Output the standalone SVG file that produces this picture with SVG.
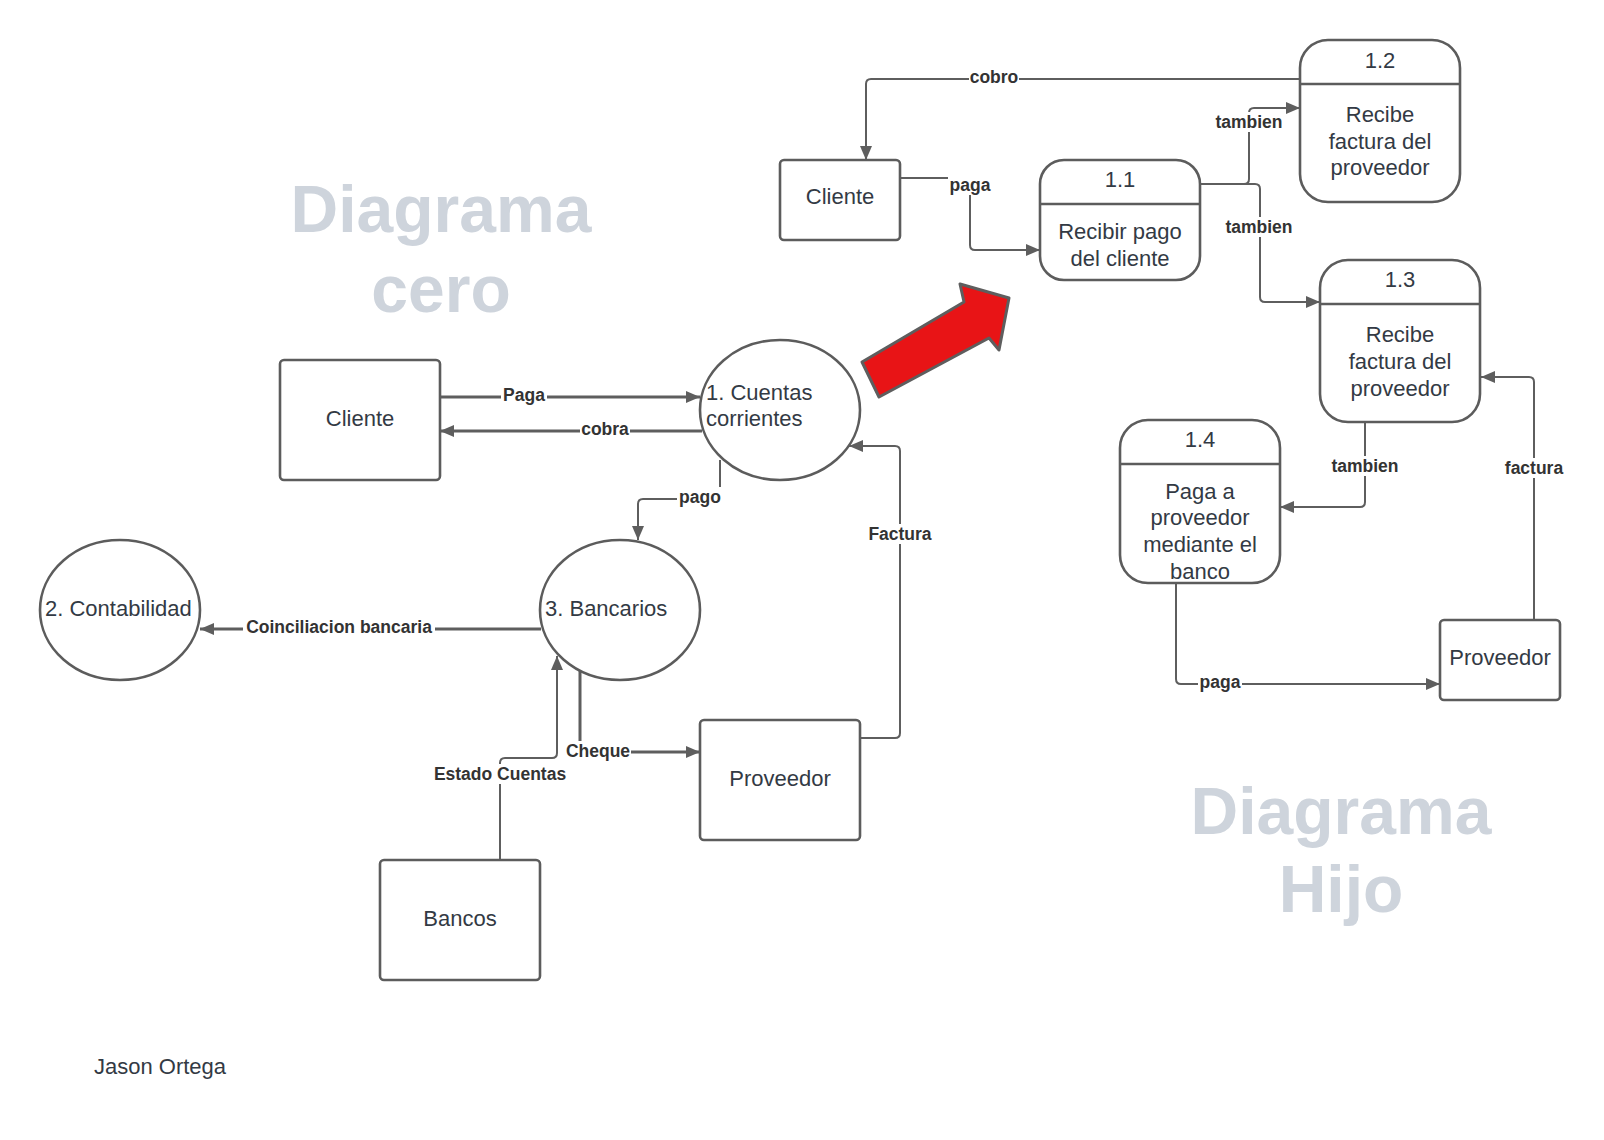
<svg xmlns="http://www.w3.org/2000/svg" width="1604" height="1140" viewBox="0 0 1604 1140">
<style>
.box{fill:#fff;stroke:#5c5c5c;stroke-width:2.6}
.nt{font-family:"Liberation Sans",Arial,sans-serif;font-size:22px;fill:#333a44}
.mid{text-anchor:middle}
.title{font-family:"Liberation Sans",Arial,sans-serif;font-size:66px;font-weight:bold;fill:#ced4dc;text-anchor:middle}
.con{fill:none;stroke:#5e5e5e;stroke-width:2}
.thick{stroke-width:3}
.lbg{fill:#fff}
.lt{font-family:"Liberation Sans",Arial,sans-serif;font-size:17.5px;font-weight:bold;fill:#333;text-anchor:middle}
</style>
<defs>
<marker id="ah" viewBox="0 0 14 12" refX="14" refY="6" markerWidth="14" markerHeight="12" orient="auto" markerUnits="userSpaceOnUse"><path d="M0,0 L14,6 L0,12 z" fill="#5e5e5e"/></marker>
</defs>
<rect width="1604" height="1140" fill="#fff"/>

<g id="titles">
<text class="title" x="441" y="232">Diagrama</text>
<text class="title" x="441" y="312">cero</text>
<text class="title" x="1341" y="834">Diagrama</text>
<text class="title" x="1341" y="912">Hijo</text>
</g>

<g id="connectors">
<path class="con thick" d="M440,397 H700" marker-end="url(#ah)"/>
<path class="con thick" d="M702,431 H440" marker-end="url(#ah)"/>
<path class="con" d="M720,460 V494 Q720,499 715,499 H643 Q638,499 638,504 V540" marker-end="url(#ah)"/>
<path class="con" d="M860,738 H895 Q900,738 900,733 V451 Q900,446 895,446 H849" marker-end="url(#ah)"/>
<path class="con thick" d="M541,629 H200" marker-end="url(#ah)"/>
<path class="con thick" d="M580,670 V747 Q580,752 585,752 H700" marker-end="url(#ah)"/>
<path class="con" d="M500,860 V763 Q500,758 505,758 H552 Q557,758 557,753 V656" marker-end="url(#ah)"/>
<path class="con" d="M1300,79 H871 Q866,79 866,84 V160" marker-end="url(#ah)"/>
<path class="con" d="M900,178 H965 Q970,178 970,183 V245 Q970,250 975,250 H1040" marker-end="url(#ah)"/>
<path class="con" d="M1200,184 H1244 Q1249,184 1249,179 V113 Q1249,108 1254,108 H1300" marker-end="url(#ah)"/>
<path class="con" d="M1200,184 H1255 Q1260,184 1260,189 V297 Q1260,302 1265,302 H1320" marker-end="url(#ah)"/>
<path class="con" d="M1365,422 V502 Q1365,507 1360,507 H1280" marker-end="url(#ah)"/>
<path class="con" d="M1534,620 V382 Q1534,377 1529,377 H1481" marker-end="url(#ah)"/>
<path class="con" d="M1176,583 V679 Q1176,684 1181,684 H1440" marker-end="url(#ah)"/>

<rect class="lbg" x="501" y="386" width="46" height="20"/><text class="lt" x="524" y="395" dy="0.35em">Paga</text>
<rect class="lbg" x="580" y="420" width="50" height="20"/><text class="lt" x="605" y="429" dy="0.35em">cobra</text>
<rect class="lbg" x="677" y="487" width="46" height="20"/><text class="lt" x="700" y="497" dy="0.35em">pago</text>
<rect class="lbg" x="866" y="524" width="68" height="20"/><text class="lt" x="900" y="534" dy="0.35em">Factura</text>
<rect class="lbg" x="243" y="618" width="192" height="20"/><text class="lt" x="339" y="627" dy="0.35em">Coinciliacion bancaria</text>
<rect class="lbg" x="565" y="741" width="66" height="20"/><text class="lt" x="598" y="751" dy="0.35em">Cheque</text>
<rect class="lbg" x="431" y="764" width="138" height="20"/><text class="lt" x="500" y="774" dy="0.35em">Estado Cuentas</text>
<rect class="lbg" x="969" y="68" width="50" height="20"/><text class="lt" x="994" y="77" dy="0.35em">cobro</text>
<rect class="lbg" x="948" y="175" width="44" height="20"/><text class="lt" x="970" y="185" dy="0.35em">paga</text>
<rect class="lbg" x="1213" y="112" width="72" height="20"/><text class="lt" x="1249" y="122" dy="0.35em">tambien</text>
<rect class="lbg" x="1223" y="217" width="72" height="20"/><text class="lt" x="1259" y="227" dy="0.35em">tambien</text>
<rect class="lbg" x="1329" y="456" width="72" height="20"/><text class="lt" x="1365" y="466" dy="0.35em">tambien</text>
<rect class="lbg" x="1502" y="458" width="64" height="20"/><text class="lt" x="1534" y="468" dy="0.35em">factura</text>
<rect class="lbg" x="1198" y="673" width="44" height="20"/><text class="lt" x="1220" y="682" dy="0.35em">paga</text>
</g>

<g id="cliente0">
<rect class="box" x="280" y="360" width="160" height="120" rx="4"/>
<text class="nt mid" x="360" y="426">Cliente</text>
</g>
<g id="p1">
<ellipse class="box" cx="780" cy="410" rx="80" ry="70"/>
<text class="nt" x="706" y="400">1. Cuentas</text>
<text class="nt" x="706" y="426">corrientes</text>
</g>
<g id="p2">
<ellipse class="box" cx="120" cy="610" rx="80" ry="70"/>
<text class="nt" x="45" y="616">2. Contabilidad</text>
</g>
<g id="p3">
<ellipse class="box" cx="620" cy="610" rx="80" ry="70"/>
<text class="nt" x="545" y="616">3. Bancarios</text>
</g>
<g id="proveedor0">
<rect class="box" x="700" y="720" width="160" height="120" rx="4"/>
<text class="nt mid" x="780" y="786">Proveedor</text>
</g>
<g id="bancos">
<rect class="box" x="380" y="860" width="160" height="120" rx="4"/>
<text class="nt mid" x="460" y="926">Bancos</text>
</g>

<g id="arrow">
<polygon points="862,362 964,302 960,284 1009,298 999,350 989,338 879,397" fill="#e81416" stroke="#5e5e5e" stroke-width="3" stroke-linejoin="round"/>
</g>

<g id="cliente1">
<rect class="box" x="780" y="160" width="120" height="80" rx="4"/>
<text class="nt mid" x="840" y="204">Cliente</text>
</g>
<g id="n11">
<rect class="box" x="1040" y="160" width="160" height="120" rx="24"/>
<line x1="1040" y1="204" x2="1200" y2="204" stroke="#5c5c5c" stroke-width="2.6"/>
<text class="nt mid" x="1120" y="187">1.1</text>
<text class="nt mid" x="1120" y="239">Recibir pago</text>
<text class="nt mid" x="1120" y="266">del cliente</text>
</g>
<g id="n12">
<rect class="box" x="1300" y="40" width="160" height="162" rx="28"/>
<line x1="1300" y1="84" x2="1460" y2="84" stroke="#5c5c5c" stroke-width="2.6"/>
<text class="nt mid" x="1380" y="68">1.2</text>
<text class="nt mid" x="1380" y="122">Recibe</text>
<text class="nt mid" x="1380" y="149">factura del</text>
<text class="nt mid" x="1380" y="175">proveedor</text>
</g>
<g id="n13">
<rect class="box" x="1320" y="260" width="160" height="162" rx="28"/>
<line x1="1320" y1="304" x2="1480" y2="304" stroke="#5c5c5c" stroke-width="2.6"/>
<text class="nt mid" x="1400" y="287">1.3</text>
<text class="nt mid" x="1400" y="342">Recibe</text>
<text class="nt mid" x="1400" y="369">factura del</text>
<text class="nt mid" x="1400" y="396">proveedor</text>
</g>
<g id="n14">
<rect class="box" x="1120" y="420" width="160" height="163" rx="28"/>
<line x1="1120" y1="464" x2="1280" y2="464" stroke="#5c5c5c" stroke-width="2.6"/>
<text class="nt mid" x="1200" y="447">1.4</text>
<text class="nt mid" x="1200" y="499">Paga a</text>
<text class="nt mid" x="1200" y="525">proveedor</text>
<text class="nt mid" x="1200" y="552">mediante el</text>
<text class="nt mid" x="1200" y="579">banco</text>
</g>
<g id="proveedor1">
<rect class="box" x="1440" y="620" width="120" height="80" rx="4"/>
<text class="nt mid" x="1500" y="665">Proveedor</text>
</g>

<g id="author">
<text class="nt" x="94" y="1074">Jason Ortega</text>
</g>
</svg>
